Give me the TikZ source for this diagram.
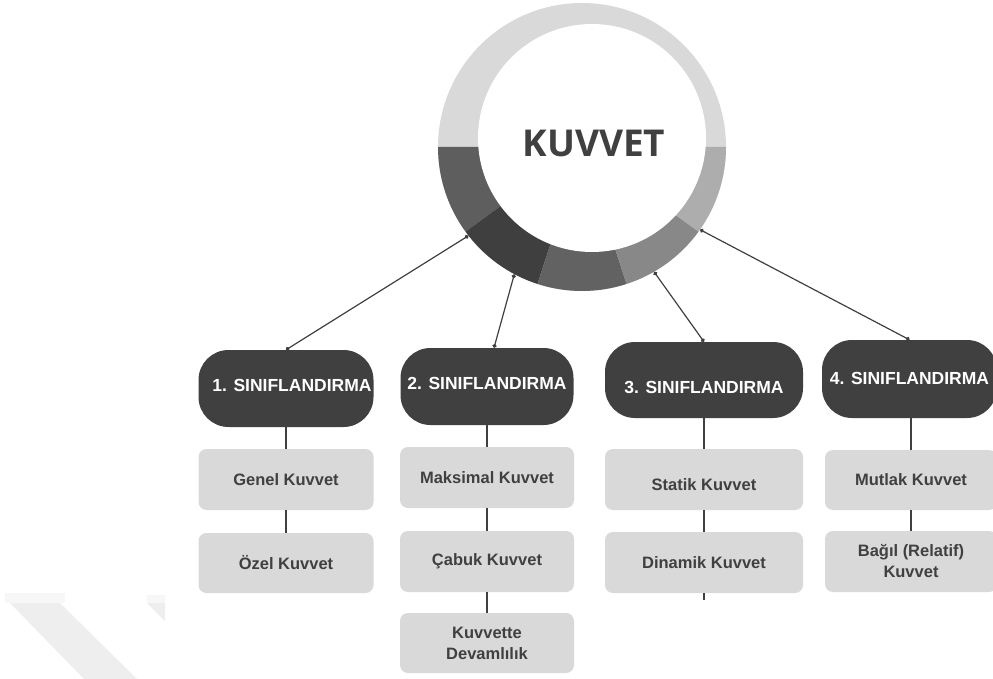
\documentclass[tikz,border=0pt]{standalone}
\usepackage{fontspec}
\setmainfont{Liberation Sans}
\newfontfamily\titlefont{Open Sans}
\usetikzlibrary{arrows.meta,calc}
\definecolor{dk}{HTML}{404040}
\definecolor{lt}{HTML}{D9D9D9}
\definecolor{sA}{HTML}{5E5E5E}
\definecolor{sB}{HTML}{3F3F3F}
\definecolor{sC}{HTML}{626262}
\definecolor{sD}{HTML}{888888}
\definecolor{sE}{HTML}{ADADAD}
\definecolor{wm}{HTML}{EEEEEE}
\definecolor{wmb}{HTML}{F7F7F7}
\begin{document}
\begin{tikzpicture}[x=1pt,y=-1pt,
  catbox/.style={fill=dk, rounded corners=30pt, inner sep=0pt, text=white,
    font=\fontsize{17.5}{21}\selectfont\bfseries, align=center,
    text height=12.5pt, text depth=0pt},
  itembox/.style={fill=lt, rounded corners=8pt, inner sep=0pt, text=dk,
    font=\fontsize{16.5}{21}\selectfont\bfseries, align=center},
  link/.style={draw=dk, line width=1.2pt, {Circle[length=4pt]}-{Circle[length=4pt]}},
  tie/.style={draw=dk, line width=1.2pt}]
\useasboundingbox (0,0) rectangle (993,679);
% faint background watermark
\fill[wmb] (5,593) rectangle (65,603);
\fill[wmb] (147,595) rectangle (165,603);
\fill[wm] (10,603) -- (60,603) -- (137,679) -- (84,679) -- cycle;
\fill[wm] (147,603) -- (165,603) -- (165,621) -- cycle;
% ring
\fill[lt] (582,147) circle[radius=144];
\fill[sA] (582,147) -- ++(180:144) arc[start angle=180, end angle=144, radius=144] -- cycle;
\fill[sB] (582,147) -- ++(144:144) arc[start angle=144, end angle=108, radius=144] -- cycle;
\fill[sC] (582,147) -- ++(108:144) arc[start angle=108, end angle=72, radius=144] -- cycle;
\fill[sD] (582,147) -- ++(72:144) arc[start angle=72, end angle=36, radius=144] -- cycle;
\fill[sE] (582,147) -- ++(36:144) arc[start angle=36, end angle=0, radius=144] -- cycle;
\fill[white] (592,138) circle[radius=114];
\node[circle, minimum size=288pt, inner sep=0pt] (ring) at (582,147) {};
\node[font=\titlefont\fontsize{37}{40}\selectfont\bfseries, text=dk] (title) at (594,143) {KUVVET};
% category boxes
\node[catbox, minimum width=175pt, minimum height=77pt, text depth=7pt] (D1) at (286,388.5) {\hspace*{12pt}1. SINIFLANDIRMA};
\node[catbox, minimum width=173pt, minimum height=77pt, text depth=7pt] (D2) at (487,386.5) {2. SINIFLANDIRMA};
\node[catbox, minimum width=198pt, minimum height=76pt, text height=26.5pt] (D3) at (704,380) {3. SINIFLANDIRMA};
\node[catbox, minimum width=175pt, minimum height=78pt, text depth=2pt] (D4) at (909.5,379) {4. SINIFLANDIRMA};
% item boxes
\node[itembox, minimum width=175pt, minimum height=61pt] (G1) at (286,479.5) {Genel Kuvvet};
\node[itembox, minimum width=175pt, minimum height=60pt] (O1) at (286,563) {Özel Kuvvet};
\node[itembox, minimum width=174pt, minimum height=61pt] (M2) at (487,477.5) {Maksimal Kuvvet};
\node[itembox, minimum width=174pt, minimum height=61pt] (C2) at (487,561.5) {Çabuk Kuvvet};
\node[itembox, minimum width=174pt, minimum height=60pt] (K2) at (487,643) {Kuvvette\\Devamlılık};
\node[itembox, minimum width=198pt, minimum height=61pt, text height=21pt, text depth=0pt] (S3) at (704,479.5) {Statik Kuvvet};
\node[itembox, minimum width=198pt, minimum height=61pt] (N3) at (704,562.5) {Dinamik Kuvvet};
\node[itembox, minimum width=172pt, minimum height=60pt] (U4) at (911,480) {Mutlak Kuvvet};
\node[itembox, minimum width=172pt, minimum height=61pt] (B4) at (911,561.5) {Bağıl (Relatif)\\Kuvvet};
\coordinate (stub) at (704,600);
% connectors from the ring
\draw[link] (ring.218.6) -- (D1.north);
\draw[link] (ring.242.6) -- ($(D2.north)+(7,0)$);
\draw[link] (ring.300.2) -- (D3.north);
\draw[link] (ring.325.5) -- (D4.north);
% vertical ties
\draw[tie] (D1.south) -- (G1.north);
\draw[tie] (G1.south) -- (O1.north);
\draw[tie] (D2.south) -- (M2.north);
\draw[tie] (M2.south) -- (C2.north);
\draw[tie] (C2.south) -- (K2.north);
\draw[tie] (D3.south) -- (S3.north);
\draw[tie] (S3.south) -- (N3.north);
\draw[tie] (N3.south) -- (stub);
\draw[tie] (U4.north |- D4.south) -- (U4.north);
\draw[tie] (U4.south) -- (B4.north);
\end{tikzpicture}
\end{document}
